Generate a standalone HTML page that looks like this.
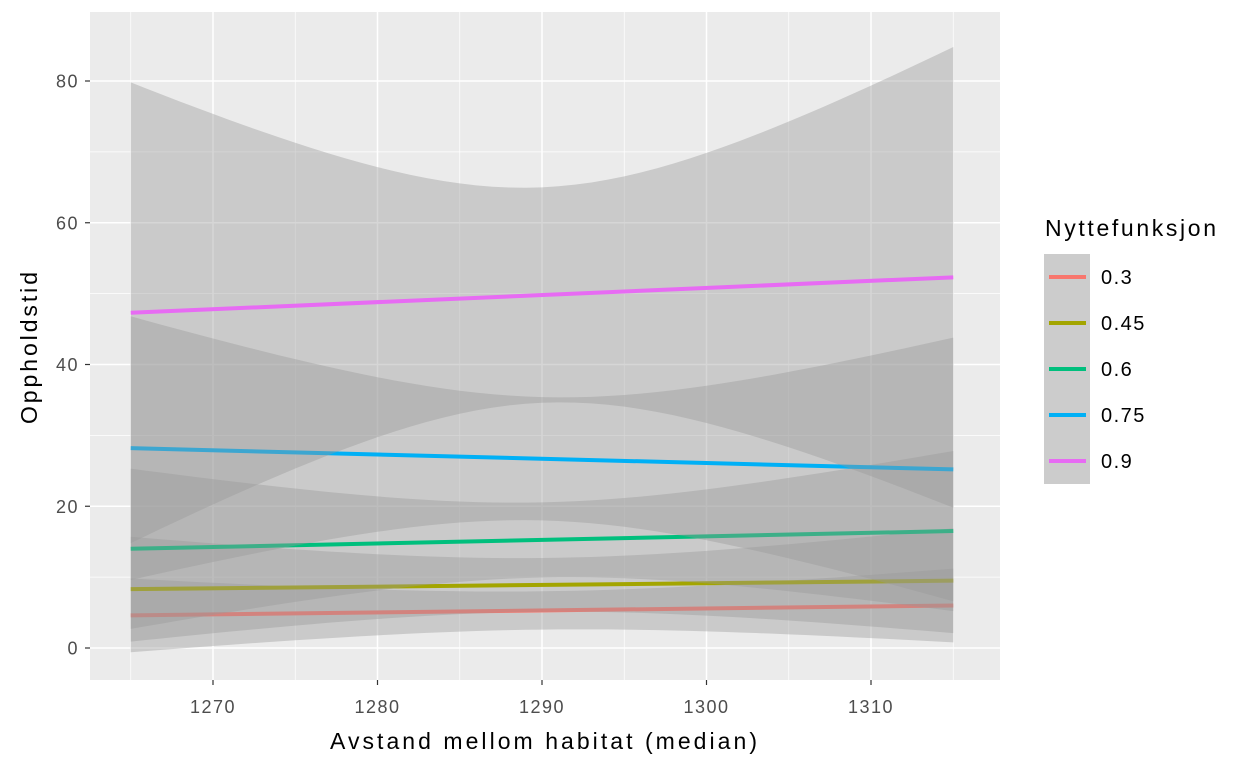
<!DOCTYPE html>
<html><head><meta charset="utf-8"><style>
body{margin:0;background:#fff;}
svg{display:block;font-family:"Liberation Sans",Arial,sans-serif;}
</style></head><body>
<svg id="chart" width="1248" height="768">
<rect x="90" y="12" width="910" height="668" fill="#EBEBEB"/>
<g id="grid"></g><g id="layers"></g><g id="axes"></g><g id="legend"></g>
</svg>
<script>
const series = ["0.3","0.45","0.6","0.75","0.9"];
const colors = ["#F8766D","#A3A500","#00BF7D","#00B0F6","#E76BF3"];
const yStart = [4.6, 8.3, 14.0, 28.2, 47.3];
const yEnd = [6.0, 9.5, 16.5, 25.2, 52.3];
const halfEnd = [5.2, 7.4, 11.3, 18.6, 32.5];
const halfCenter = [2.7, 3.8, 5.3, 8.7, 15.2];
const xTicks = [1270,1280,1290,1300,1310];
const yTicks = [0,20,40,60,80];
const xMin=1265, xMax=1315;
const NS="http://www.w3.org/2000/svg";
const X=v=>213+(v-1270)*16.45;
const Y=v=>648-v*7.0875;
function mk(tag,attrs,parent){const e=document.createElementNS(NS,tag);for(const k in attrs)e.setAttribute(k,attrs[k]);document.getElementById(parent).appendChild(e);return e;}
for(let v=1265;v<=1315;v+=10){const l=mk('line',{x1:X(v),x2:X(v),y1:12,y2:680,stroke:'#fff','stroke-width':0.7},'grid');

}
for(let v=10;v<=70;v+=20){const l=mk('line',{x1:90,x2:1000,y1:Y(v),y2:Y(v),stroke:'#fff','stroke-width':0.7},'grid');

}
xTicks.forEach(v=>{const l=mk('line',{x1:X(v),x2:X(v),y1:12,y2:680,stroke:'#fff','stroke-width':1.5},'grid');


const t=mk('line',{x1:X(v),x2:X(v),y1:680,y2:685,stroke:'#333','stroke-width':1.2},'axes');


const tx=mk('text',{x:X(v),y:713,'text-anchor':'middle','font-size':18,'letter-spacing':1.5,fill:'#4D4D4D'},'axes');tx.textContent=v;

});
yTicks.forEach(v=>{const l=mk('line',{x1:90,x2:1000,y1:Y(v),y2:Y(v),stroke:'#fff','stroke-width':1.5},'grid');


const t=mk('line',{x1:85,x2:90,y1:Y(v),y2:Y(v),stroke:'#333','stroke-width':1.2},'axes');


const tx=mk('text',{x:79,y:Y(v)+6.5,'text-anchor':'end','font-size':18,'letter-spacing':1.5,fill:'#4D4D4D'},'axes');tx.textContent=v;

});
series.forEach((s,i)=>{
 const xm=(xMin+xMax)/2, hw=(xMax-xMin)/2;
 const up=[],lo=[];
 for(let k=0;k<=50;k++){const x=xMin+k;const f=(x-xm)/hw;
  const y=yStart[i]+(yEnd[i]-yStart[i])*k/50;
  const w=Math.sqrt(halfCenter[i]**2+(halfEnd[i]**2-halfCenter[i]**2)*f*f);
  up.push(X(x)+','+Y(y+w));lo.unshift(X(x)+','+Y(y-w));}
 const p=mk('polygon',{points:up.concat(lo).join(' '),fill:'#999999','fill-opacity':0.4},'layers');
 
 
 const l=mk('line',{x1:X(xMin),y1:Y(yStart[i]),x2:X(xMax),y2:Y(yEnd[i]),stroke:colors[i],'stroke-width':4},'layers');
 
 
 const ky=254+i*46;
 const kb=mk('rect',{x:1044,y:ky,width:46,height:46,fill:'#CCCCCC'},'legend');
 
 
 const kl=mk('line',{x1:1049,x2:1086,y1:ky+23,y2:ky+23,stroke:colors[i],'stroke-width':4},'legend');
 
 
 const kt=mk('text',{x:1101,y:ky+30,'font-size':20,'letter-spacing':1.5,fill:'#000'},'legend');kt.textContent=s;
 
 
});
const lt=mk('text',{x:1045,y:236,'font-size':23,textLength:171,fill:'#000'},'legend');lt.textContent='Nyttefunksjon';


const xt=mk('text',{x:330,y:749,'font-size':23,textLength:427,fill:'#000'},'axes');xt.textContent='Avstand mellom habitat (median)';


const yt=mk('text',{x:0,y:0,'font-size':23,textLength:152,fill:'#000',transform:'translate(37,424) rotate(-90)'},'axes');yt.textContent='Oppholdstid';


</script>
</body></html>
